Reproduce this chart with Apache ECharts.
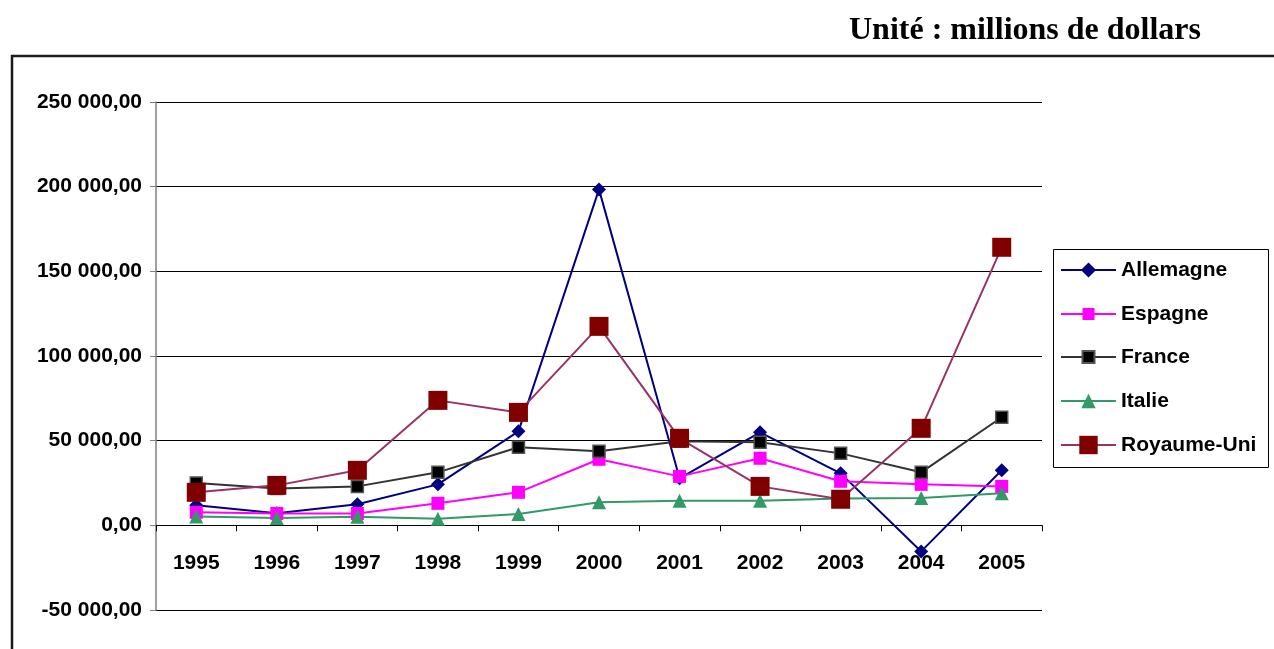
<!DOCTYPE html>
<html><head><meta charset="utf-8">
<script src="https://cdn.jsdelivr.net/npm/echarts@6/dist/echarts.min.js"></script>
<style>html,body{margin:0;padding:0;background:#fff}#c{width:1274px;height:649px}</style>
</head><body><div id="c"></div>
<script>
const years = ['1995','1996','1997','1998','1999','2000','2001','2002','2003','2004','2005'];
const allemagne = [11800, 7100, 12400, 24200, 55500, 198400, 27800, 54900, 30700, -15400, 32500];
const espagne = [7700, 7000, 7000, 13000, 19500, 39000, 28900, 39600, 26000, 24200, 23000];
const france = [25000, 21800, 23000, 31300, 46100, 43700, 49600, 49000, 42500, 31300, 63800];
const italie = [5200, 4400, 5000, 3900, 6700, 13600, 14500, 14500, 15900, 16200, 18900];
const royaumeUni = [19500, 23600, 32500, 73800, 66700, 117500, 51400, 23000, 15400, 57300, 164200];
const seriesNames = ['Allemagne','Espagne','France','Italie','Royaume-Uni'];
const yTicks = {min: -50000, max: 250000, interval: 50000};

function fmt(v){
  const s = Math.abs(v).toString().replace(/\B(?=(\d{3})+(?!\d))/g,' ');
  return (v<0?'-':'') + s + ',00';
}
const font = '"Liberation Sans", Arial, sans-serif';
const chart = echarts.init(document.getElementById('c'));
function mk(name, data, lineColor, symbol, size, fill, border){
  return {name, type:'line', data, symbol, symbolSize:size,
    lineStyle:{color:lineColor, width:2},
    itemStyle:{color:fill, borderColor:border||fill, borderWidth:border?1.5:0},
    emphasis:{disabled:true}, animation:false};
}
const legendRowsY = [270, 314, 357, 401, 445];
const legendIconH = [19, 15, 15, 18, 23];
const legends = seriesNames.map((n, i) => ({
  left:1060, top:legendRowsY[i]-12, orient:'vertical', padding:0,
  itemWidth:55, itemHeight:legendIconH[i], selectedMode:false,
  textStyle:{fontFamily:font, fontWeight:'bold', fontSize:21, lineHeight:24, color:'#000'},
  data:[n]
}));
chart.setOption({
  animation:false,
  graphic:[
    {type:'rect', shape:{x:12, y:56, width:1400, height:800}, style:{fill:'none', stroke:'#1a1a1a', lineWidth:2.5}, z:-10},
    {type:'rect', shape:{x:1053.5, y:249.5, width:215, height:218}, style:{fill:'none', stroke:'#000', lineWidth:1}, z:-5},
    {type:'text', right:73, top:15, style:{text:'Unité : millions de dollars', font:'bold 32px "Liberation Serif", "Times New Roman", serif', fill:'#000'}}
  ],
  grid:{left:156, right:232, top:102, bottom:39, outerBoundsMode:'none', containLabel:false},
  legend:legends,
  xAxis:{type:'category', data:years, boundaryGap:true,
    axisLine:{onZero:true, lineStyle:{color:'#000', width:1}},
    axisTick:{show:true, length:6, lineStyle:{color:'#000'}},
    axisLabel:{margin:-57, fontFamily:font, fontWeight:'bold', fontSize:21, color:'#000'},
    splitLine:{show:false}},
  yAxis:{type:'value', min:yTicks.min, max:yTicks.max, interval:yTicks.interval,
    axisLine:{show:true, lineStyle:{color:'#808080', width:1.5}},
    axisTick:{show:true, length:6, lineStyle:{color:'#808080'}},
    axisLabel:{margin:14, fontFamily:font, fontWeight:'bold', fontSize:21, color:'#000', formatter:fmt},
    splitLine:{show:true, lineStyle:{color:'#000', width:1}}},
  series:[
    mk('Allemagne', allemagne, '#000080', 'diamond', 14, '#000080'),
    mk('Espagne', espagne, '#FF00FF', 'rect', 13, '#FF00FF'),
    mk('France', france, '#333333', 'rect', 12, '#000000', '#555555'),
    mk('Italie', italie, '#339966', 'triangle', 14, '#339966'),
    mk('Royaume-Uni', royaumeUni, '#993366', 'rect', 19, '#800000')
  ]
});
</script></body></html>
